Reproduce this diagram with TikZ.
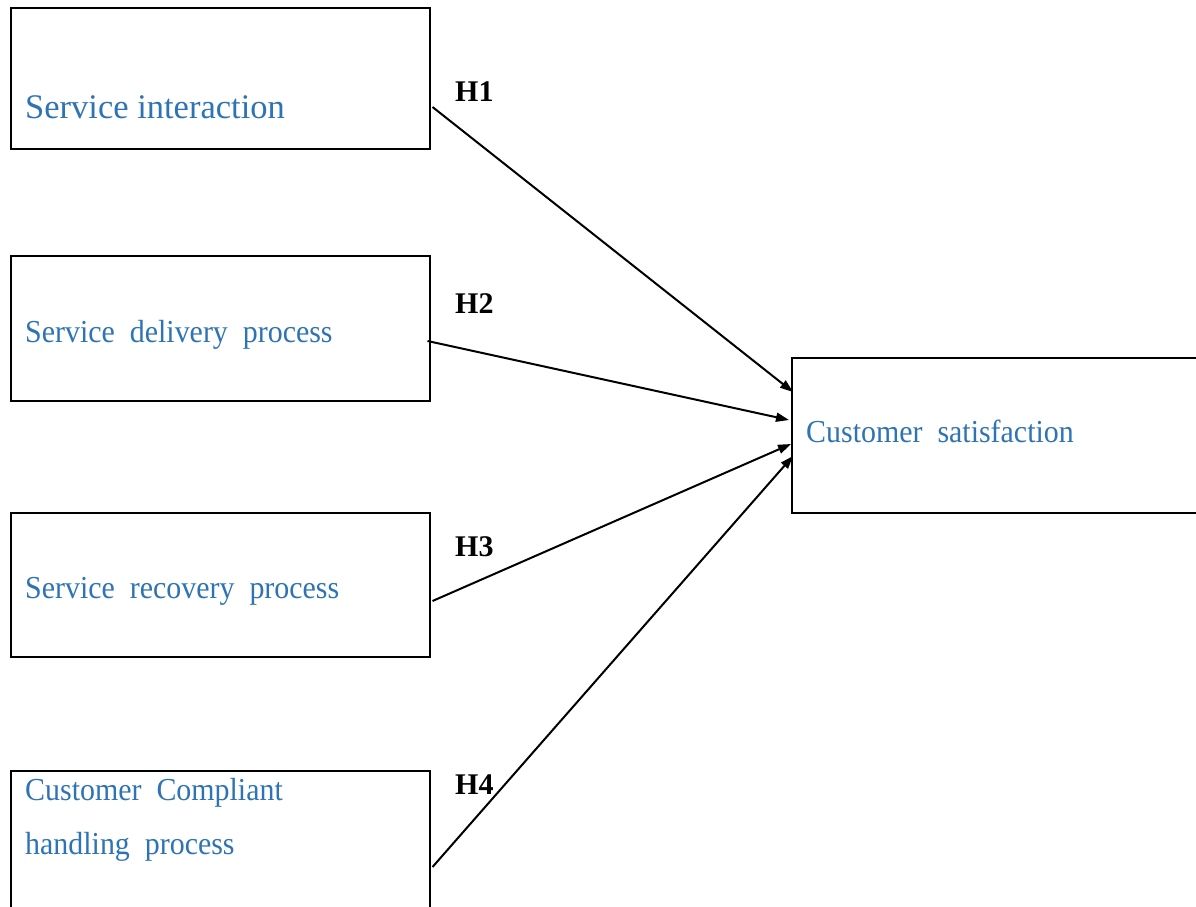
\documentclass[tikz,border=0pt]{standalone}
\usepackage{fontspec}
\setmainfont{Liberation Serif}
\usetikzlibrary{arrows.meta,calc}
\definecolor{txtblue}{HTML}{2E74B5}
\newcommand{\narrow}[1]{\scalebox{0.935}[1]{#1}}
\tikzset{
  box/.style={draw=black,line width=2pt,minimum width=419pt,anchor=north west,inner sep=0pt},
  lbl/.style={anchor=base west,inner sep=0pt,text=txtblue,font=\fontsize{32}{36}\selectfont},
  hyp/.style={anchor=base west,inner sep=0pt,font=\fontsize{30}{34}\selectfont\bfseries},
  arr/.style={line width=2pt,-{Triangle[length=13pt,width=9pt]}}
}
\begin{document}
\begin{tikzpicture}[x=1pt,y=1pt]
\useasboundingbox (0,0) rectangle (1196,-907);
\clip (0,0) rectangle (1196,-907);
\fill[white] (0,0) rectangle (1196,-907);
\node[box,minimum height=141pt] (b1) at (9.5,-7) {};
\node[box,minimum height=145pt] (b2) at (9.5,-255) {};
\node[box,minimum height=144pt] (b3) at (9.5,-512) {};
\node[box,minimum height=160pt] (b4) at (9.5,-770) {};
\node[box,minimum width=430pt,minimum height=155pt] (b5) at (791,-357) {};
\node[lbl,font=\fontsize{34.5}{38}\selectfont] (t1) at (25,-118) {Service interaction};
\node[lbl] (t2) at (25,-342) {\narrow{Service\ \ delivery\ \ process}};
\node[lbl] (t3) at (25,-598) {\narrow{Service\ \ recovery\ \ process}};
\node[lbl] (t4a) at (25,-800) {\narrow{Customer\ \ Compliant}};
\node[lbl] (t4b) at (25,-854) {\narrow{handling\ \ process}};
\node[lbl] (t5) at (806,-442) {\narrow{Customer\ \ satisfaction}};
\node[hyp] (h1) at (455,-101) {H1};
\node[hyp] (h2) at (455,-313) {H2};
\node[hyp] (h3) at (455,-556) {H3};
\node[hyp] (h4) at (455,-794) {H4};
\coordinate (s1) at ($(b1.north east)+(2,-100)$);
\coordinate (s2) at ($(b2.north east)+(-3,-86)$);
\coordinate (s3) at ($(b3.north east)+(2,-89)$);
\coordinate (s4) at ($(b4.north east)+(2,-97)$);
\coordinate (e1) at ($(b5.north west)+(2,-35)$);
\coordinate (e2) at ($(b5.north west)+(-2,-63)$);
\coordinate (e3) at ($(b5.north west)+(0,-87)$);
\coordinate (e4) at ($(b5.north west)+(2,-99)$);
\draw[arr] (s1) -- (e1);
\draw[arr] (s2) -- (e2);
\draw[arr] (s3) -- (e3);
\draw[arr] (s4) -- (e4);
\end{tikzpicture}
\end{document}
